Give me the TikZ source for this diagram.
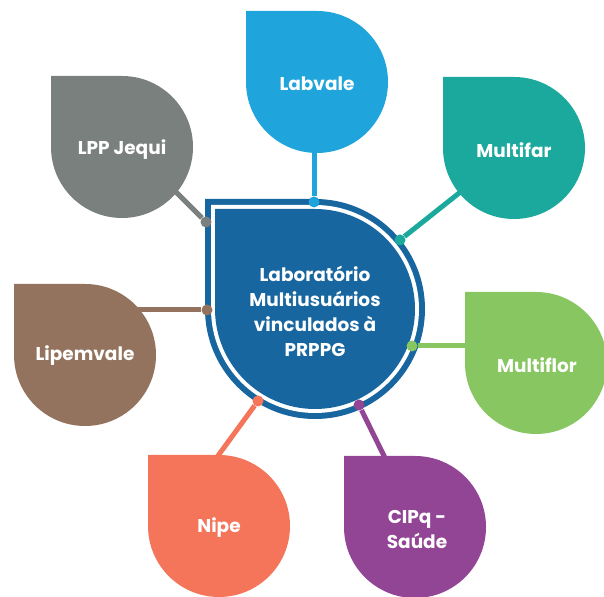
\documentclass[tikz,border=0pt]{standalone}
\usepackage{fontspec}
\setmainfont{Poppins}
\usetikzlibrary{positioning}
\definecolor{hub}{HTML}{17669F}
\definecolor{labvale}{HTML}{20A4DC}
\definecolor{lpp}{HTML}{7A807D}
\definecolor{multifar}{HTML}{1AA99C}
\definecolor{lipemvale}{HTML}{93725E}
\definecolor{multiflor}{HTML}{88C661}
\definecolor{nipe}{HTML}{F4755A}
\definecolor{cipq}{HTML}{924595}

\begin{document}
\begin{tikzpicture}[
  x=1pt, y=1pt,
  leaftext/.style={text=white, font=\bfseries\fontsize{18.5}{25}\selectfont, align=center, inner sep=0pt},
  link/.style={line width=5pt},
  dot/.style={circle, inner sep=0pt, minimum size=11pt},
  drop/.pic={\path[pic actions] (-71,71) -- (0,71) arc[start angle=90, end angle=-180, radius=71] -- cycle;}
]
  \useasboundingbox (0,0) rectangle (604,596);
  % central drop with double border
  \fill[hub] (205,397) -- (315,397) arc[start angle=90, end angle=-180, radius=110] -- cycle;
  \fill[white] (211,391) -- (315,391) arc[start angle=90, end angle=-180, radius=104] -- cycle;
  \fill[hub] (215,387) -- (315,387) arc[start angle=90, end angle=-180, radius=100] -- cycle;
  \node[leaftext] (hubtext) at (315,285) {Laboratório\\Multiusuários\\vinculados à\\PRPPG};

  % dots on the border
  \node[dot, fill=labvale] (lab-dot) at (314,394) {};
  \node[dot, fill=lpp] (lpp-dot) at (206,374) {};
  \node[dot, fill=multifar] (mfar-dot) at (400,356) {};
  \node[dot, fill=lipemvale] (lip-dot) at (207,286) {};
  \node[dot, fill=multiflor] (mflor-dot) at (412,250) {};
  \node[dot, fill=nipe] (nipe-dot) at (258,195) {};
  \node[dot, fill=cipq] (cipq-dot) at (359,191) {};

  % leaf ends of the connectors
  \coordinate (lab-end) at (314,460);
  \coordinate (lpp-end) at (168,412);
  \coordinate (mfar-end) at (468,410);
  \coordinate (lip-end) at (130,286);
  \coordinate (mflor-end) at (480,250);
  \coordinate (nipe-end) at (212,132);
  \coordinate (cipq-end) at (388,132);

  \draw[link, labvale] (lab-end) -- (lab-dot);
  \draw[link, lpp] (lpp-end) -- (lpp-dot);
  \draw[link, multifar] (mfar-end) -- (mfar-dot);
  \draw[link, lipemvale] (lip-end) -- (lip-dot);
  \draw[link, multiflor] (mflor-end) -- (mflor-dot);
  \draw[link, nipe] (nipe-end) -- (nipe-dot);
  \draw[link, cipq] (cipq-end) -- (cipq-dot);

  % leaves
  \pic[fill=labvale] at (317,514) {drop};
  \pic[fill=lpp] at (122,449) {drop};
  \pic[fill=multifar] at (514,448) {drop};
  \pic[fill=lipemvale] at (85,241) {drop};
  \pic[fill=multiflor] at (536,233) {drop};
  \pic[fill=nipe] at (219,70) {drop};
  \pic[fill=cipq] at (415,69) {drop};

  \node[leaftext] (lab) at (317,512) {Labvale};
  \node[leaftext] (lpp) at (122,446) {LPP Jequi};
  \node[leaftext] (mfar) at (514,446) {Multifar};
  \node[leaftext] (lip) at (85,240) {Lipemvale};
  \node[leaftext] (mflor) at (537,231) {Multiflor};
  \node[leaftext] (nipe) at (219,68) {Nipe};
  \node[leaftext] (cipq) at (417,66) {CIPq -\\Saúde};
\end{tikzpicture}
\end{document}
